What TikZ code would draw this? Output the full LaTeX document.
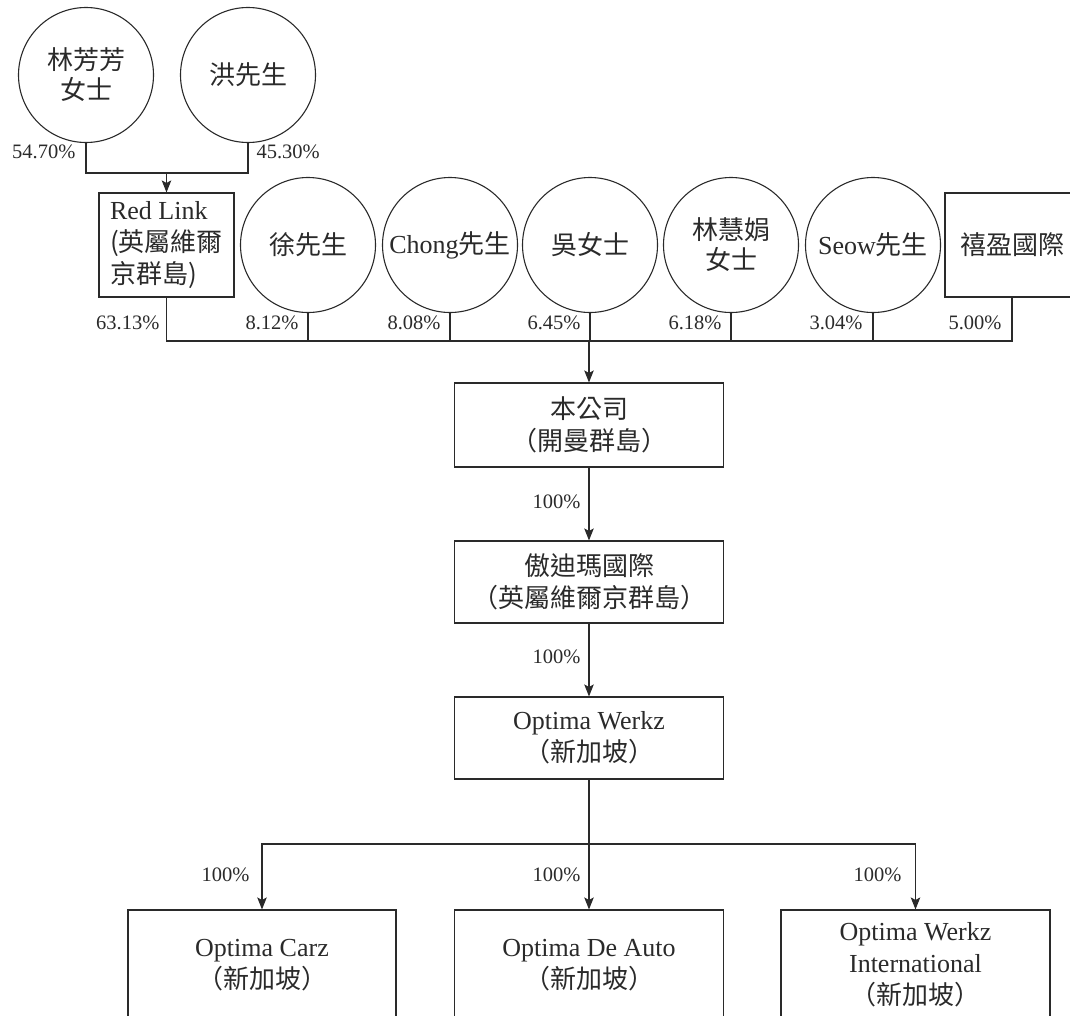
\documentclass[tikz,border=0pt]{standalone}
\usepackage{fontspec}
\setmainfont{Liberation Serif}
\newfontfamily\cjk{Noto Sans CJK TC}
\usetikzlibrary{arrows.meta}
\definecolor{ink}{HTML}{2A2A2A}
\begin{document}
\begin{tikzpicture}[x=1pt,y=-1pt,line width=1.1pt,draw=ink,text=ink,
  person/.style={circle,draw,minimum size=135pt,inner sep=0pt,align=center,font=\fontsize{26}{30}\selectfont},
  entity/.style={rectangle,draw,inner sep=0pt,align=center,font=\fontsize{26}{32}\selectfont},
  pct/.style={inner sep=0pt,font=\fontsize{20.5}{24}\selectfont},
  arr/.style={-{Stealth[length=12pt,width=9.5pt,inset=2.5pt]}}]
\useasboundingbox (0,0) rectangle (1070,1015);
% top owners
\node[person] (lin) at (86,75) {{\cjk 林芳芳}\\{\cjk 女士}};
\node[person] (hong) at (248,75) {{\cjk 洪先生}};
\coordinate (top) at (167,173);
% second row
\node[entity,minimum width=135pt,minimum height=104pt,align=left] (redlink) at (166.5,245) {Red Link\\{\cjk (英屬維爾}\\{\cjk 京群島)}};
\node[person] (xu) at (308,245) {{\cjk 徐先生}};
\node[person] (chong) at (450,245) {Chong{\cjk 先生}};
\node[person] (wu) at (590,245) {{\cjk 吳女士}};
\node[person] (linhj) at (731,245) {{\cjk 林慧娟}\\{\cjk 女士}};
\node[person] (seow) at (873,245) {Seow{\cjk 先生}};
\node[entity,minimum width=134pt,minimum height=104pt] (xiying) at (1012,245) {{\cjk 禧盈國際}};
\coordinate (bus) at (590,341);
% chain
\node[entity,minimum width=269pt,minimum height=84pt] (company) at (589,425) {{\cjk 本公司}\\{\cjk （開曼群島）}};
\node[entity,minimum width=269pt,minimum height=82pt] (aodima) at (589,582) {{\cjk 傲迪瑪國際}\\{\cjk （英屬維爾京群島）}};
\node[entity,minimum width=269pt,minimum height=82pt] (ow) at (589,738) {Optima Werkz\\{\cjk （新加坡）}};
\coordinate (br) at (589,844);
\node[entity,minimum width=268pt,minimum height=110pt] (carz) at (262,965) {Optima Carz\\{\cjk （新加坡）}};
\node[entity,minimum width=269pt,minimum height=110pt] (deauto) at (589,965) {Optima De Auto\\{\cjk （新加坡）}};
\node[entity,minimum width=269pt,minimum height=110pt] (owi) at (915.5,965) {Optima Werkz\\International\\{\cjk （新加坡）}};
% connectors top
\draw (lin.south) |- (hong.south |- top) -- (hong.south);
\draw[arr] (redlink.north |- top) -- (redlink.north);
% connectors second row
\draw (redlink.south) |- (xiying.south |- bus) -- (xiying.south);
\foreach \n in {xu,chong,wu,linhj,seow} \draw (\n.south) -- (\n.south |- bus);
\draw[arr] (company.north |- bus) -- (company.north);
\draw[arr] (company.south) -- (aodima.north);
\draw[arr] (aodima.south) -- (ow.north);
\draw[arr] (ow.south) -- (deauto.north);
\draw[arr] (deauto.north |- br) -| (carz.north);
\draw[arr] (deauto.north |- br) -| (owi.north);
% labels
\node[pct,anchor=east] (p1) at (76,152) {54.70\%};
\node[pct,anchor=west] (p2) at (256,152) {45.30\%};
\node[pct,anchor=east] (p3) at (160,323) {63.13\%};
\node[pct,anchor=east] (p4) at (299,323) {8.12\%};
\node[pct,anchor=east] (p5) at (441,323) {8.08\%};
\node[pct,anchor=east] (p6) at (581,323) {6.45\%};
\node[pct,anchor=east] (p7) at (722,323) {6.18\%};
\node[pct,anchor=east] (p8) at (863,323) {3.04\%};
\node[pct,anchor=east] (p9) at (1002,323) {5.00\%};
\node[pct,anchor=east] (p10) at (581,502) {100\%};
\node[pct,anchor=east] (p11) at (581,657) {100\%};
\node[pct,anchor=east] (p12) at (250,875) {100\%};
\node[pct,anchor=east] (p13) at (581,875) {100\%};
\node[pct,anchor=east] (p14) at (902,875) {100\%};
\end{tikzpicture}
\end{document}
